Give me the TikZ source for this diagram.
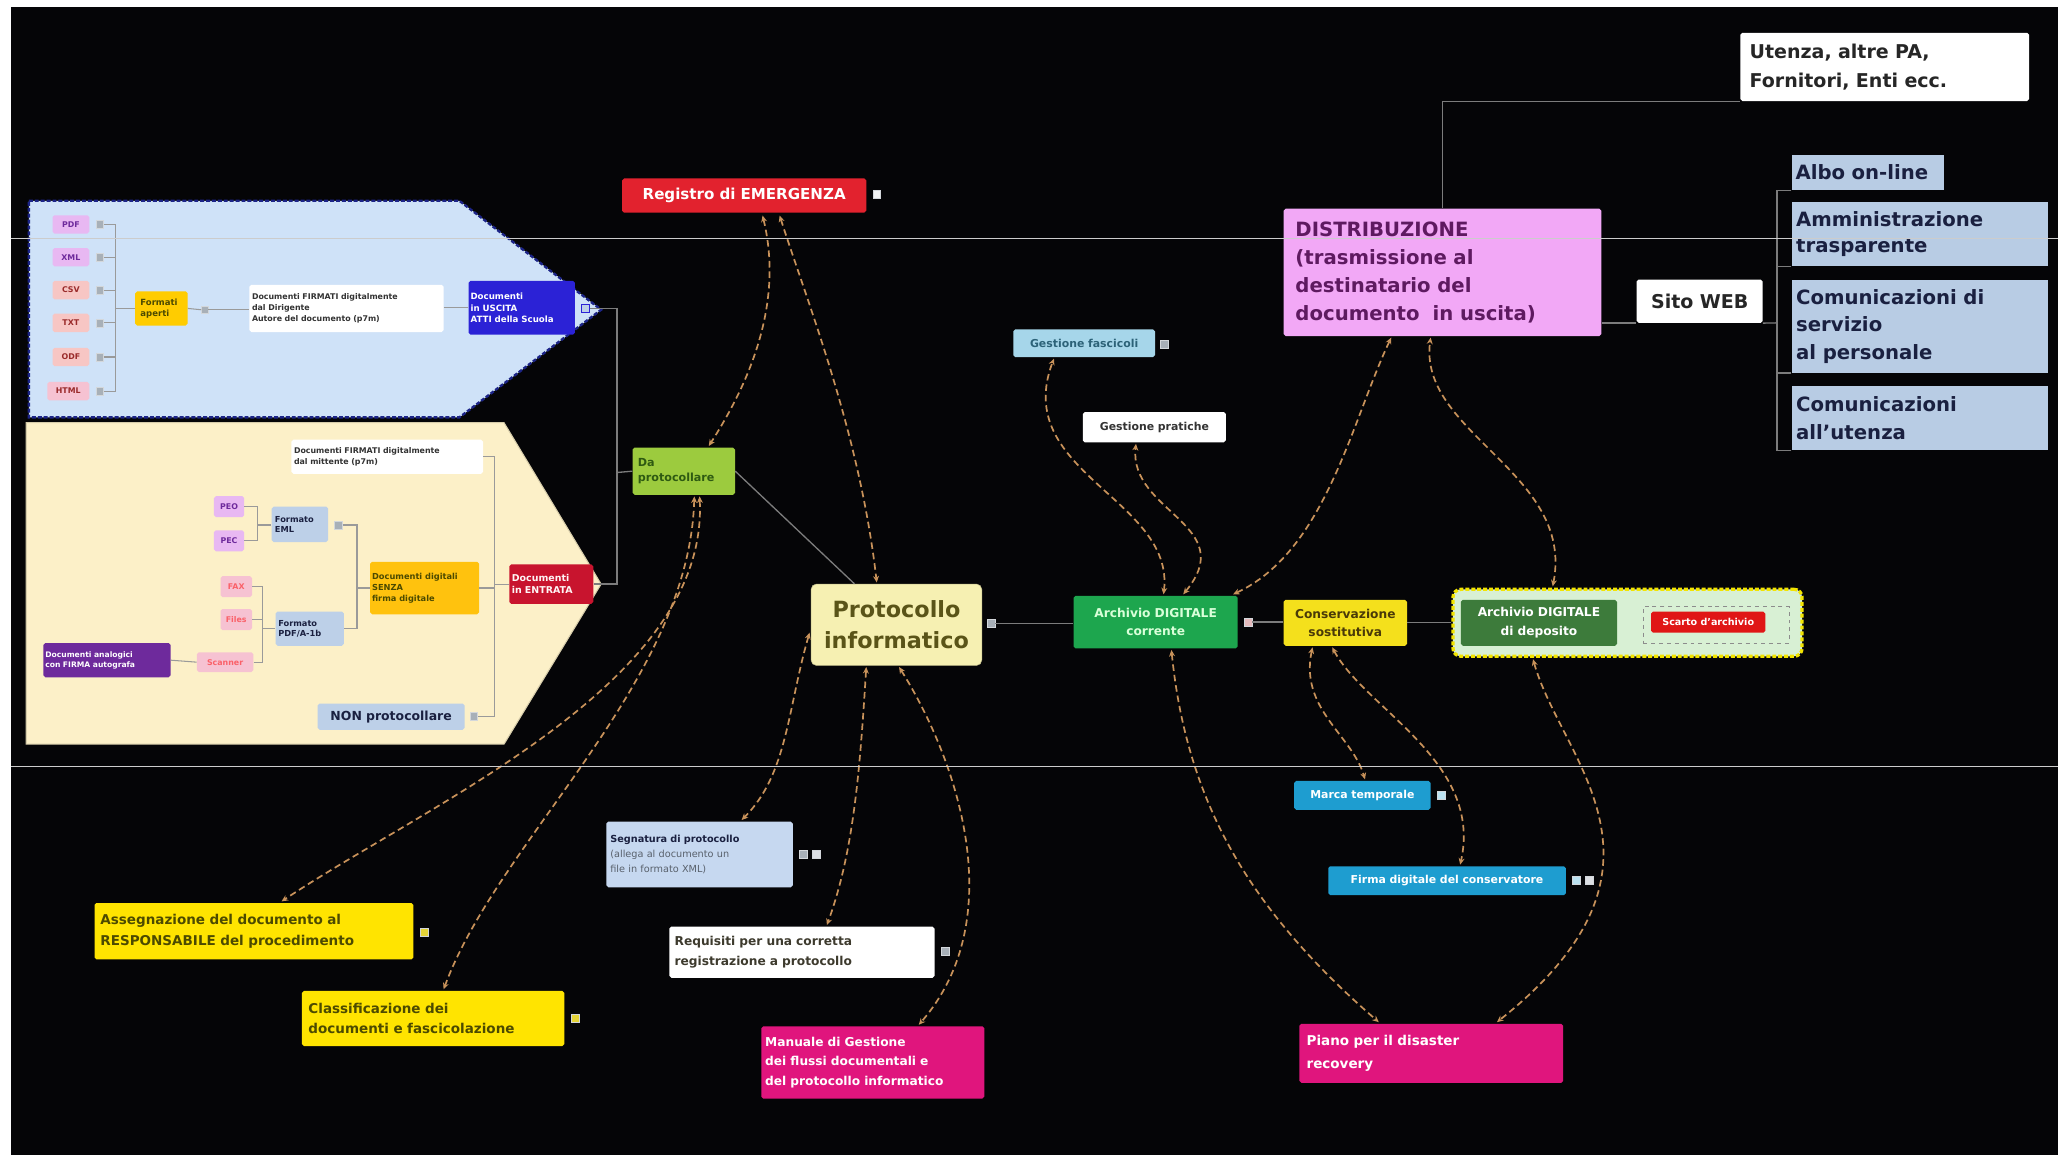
\documentclass[tikz,border=0pt]{standalone}
\usepackage{fontspec}
\setmainfont{DejaVu Sans}
\usetikzlibrary{arrows.meta,calc}
\hyphenpenalty=10000
\exhyphenpenalty=10000
\definecolor{bg}{HTML}{050507}
\definecolor{linegray}{HTML}{7C7C7C}
\definecolor{plinec}{HTML}{9A9A9A}
\definecolor{relc}{HTML}{C8925A}
\definecolor{panelB}{HTML}{CFE2F8}
\definecolor{panelBd}{HTML}{1C2488}
\definecolor{panelY}{HTML}{FCF0C8}
\definecolor{regred}{HTML}{E2222E}
\definecolor{dapg}{HTML}{9CCB3E}
\definecolor{dapt}{HTML}{2E5A12}
\definecolor{protf}{HTML}{F6F0B2}
\definecolor{prott}{HTML}{5A5418}
\definecolor{archg}{HTML}{1DA64E}
\definecolor{consy}{HTML}{F4E01C}
\definecolor{const}{HTML}{4A3A08}
\definecolor{depg}{HTML}{3D7B3B}
\definecolor{depfr}{HTML}{D8F0D4}
\definecolor{depbd}{HTML}{F2E400}
\definecolor{scred}{HTML}{E01616}
\definecolor{distf}{HTML}{F2A8F6}
\definecolor{distt}{HTML}{5E1A60}
\definecolor{steel}{HTML}{B8CCE4}
\definecolor{navyt}{HTML}{1A2040}
\definecolor{gfas}{HTML}{A6D6EA}
\definecolor{gfast}{HTML}{2C6278}
\definecolor{tealb}{HTML}{1E9DD0}
\definecolor{segf}{HTML}{C6D8F0}
\definecolor{magb}{HTML}{E0157D}
\definecolor{yel}{HTML}{FFE400}
\definecolor{yelt}{HTML}{4C4A00}
\definecolor{uscb}{HTML}{2B22D6}
\definecolor{fmty}{HTML}{FFCC00}
\definecolor{lil}{HTML}{E8B8F2}
\definecolor{sal}{HTML}{F7C6C4}
\definecolor{pinkf}{HTML}{F6C2D2}
\definecolor{purp}{HTML}{6E2A9C}
\definecolor{senz}{HTML}{FFC20E}
\definecolor{entrc}{HTML}{C8142E}
\definecolor{ltblue}{HTML}{BDD0E8}
\definecolor{mkc}{HTML}{A8B0B8}
\definecolor{darkred}{HTML}{9A2A2A}
\newcommand\fs[2]{\fontsize{#1}{#2}\selectfont}
\newcommand\bx[7][]{%
  \pgfmathsetmacro\bxw{#5-#3}%
  \pgfmathsetmacro\bxh{#6-#4}%
  \pgfmathsetmacro\bxt{max(#5-#3-8,4)}%
  \node[box,minimum width=\bxw pt,minimum height=\bxh pt,text width=\bxt pt,#1] (#2) at ({(#3+#5)/2},{(#4+#6)/2}) {#7};%
}
\begin{document}
\begin{tikzpicture}[x=1pt,y=-1pt,
  box/.style={rectangle,inner sep=0pt,rounded corners=1.5pt,align=left,font=\bfseries},
  mk/.style={rectangle,inner sep=0pt,minimum size=6pt,fill=mkc,draw=white!50!mkc,line width=0.4pt},
  conn/.style={draw=linegray,line width=1pt},
  pconn/.style={draw=plinec,line width=0.8pt},
  rel/.style={draw=relc,line width=1.3pt,dash pattern=on 5pt off 3pt,{Stealth[length=5pt,width=4.5pt]}-{Stealth[length=5pt,width=4.5pt]}},
  scan/.style={draw=white!80!black,line width=0.8pt}
]
\useasboundingbox (0,0) rectangle (1568,880);
\fill[white] (0,0) rectangle (1568,880);
\fill[bg] (8,5) rectangle (1568,880);

% ---------- panels ----------
\filldraw[fill=panelB,draw=panelBd,line width=1.8pt,dash pattern=on 3pt off 1.5pt]
  (22,153) -- (350,153) -- (458,236) -- (350,318) -- (22,318) -- cycle;
\filldraw[fill=panelY,draw=panelY!85!black,line width=0.8pt]
  (20,322) -- (384,322) -- (458,445) -- (384,567) -- (20,567) -- cycle;

% blue panel contents
\bx[fill=lil,text=purp,align=center,font=\bfseries\fs{6}{7}]{pdf}{40}{164}{68}{178}{PDF}
\bx[fill=lil,text=purp,align=center,font=\bfseries\fs{6}{7}]{xml}{40}{189}{68}{203}{XML}
\bx[fill=sal,text=darkred,align=center,font=\bfseries\fs{6}{7}]{csv}{40}{214}{68}{228}{CSV}
\bx[fill=sal,text=darkred,align=center,font=\bfseries\fs{6}{7}]{txt}{40}{239}{68}{253}{TXT}
\bx[fill=sal,text=darkred,align=center,font=\bfseries\fs{6}{7}]{odf}{40}{265}{68}{279}{ODF}
\bx[fill=pinkf,text=darkred,align=center,font=\bfseries\fs{6}{7},text width=28pt]{html}{36}{291}{68}{305}{HTML}
\node[mk] (pdfm) at (76,171) {};
\node[mk] (xmlm) at (76,196) {};
\node[mk] (csvm) at (76,221) {};
\node[mk] (txtm) at (76,246) {};
\node[mk] (odfm) at (76,272) {};
\node[mk] (htmlm) at (76,298) {};
\bx[fill=fmty,text=yelt,font=\bfseries\fs{6.5}{8}]{fa}{103}{222}{143}{248}{Formati\\aperti}
\node[mk,minimum size=5pt] (faic) at (156,236) {};
\bx[fill=white,text=black!80,font=\bfseries\fs{6}{8.5},text width=144pt]{fdsig}{190}{217}{338}{253}{Documenti FIRMATI digitalmente\\dal Dirigente\\Autore del documento (p7m)}
\bx[fill=uscb,text=white,font=\bfseries\fs{6.6}{9},text width=78pt]{usc}{357}{214}{438}{255}{Documenti\\in USCITA\\ATTI della Scuola}
\node[mk,fill=ltblue,draw=uscb] (uscm) at (446,235) {};

% yellow panel contents
\bx[fill=white,text=black!80,font=\bfseries\fs{6}{8.5},text width=142pt]{fdmit}{222}{335}{368}{361}{Documenti FIRMATI digitalmente\\dal mittente (p7m)}
\bx[fill=lil,text=purp,align=center,font=\bfseries\fs{6}{7}]{peo}{163}{378}{186}{394}{PEO}
\bx[fill=lil,text=purp,align=center,font=\bfseries\fs{6}{7}]{pec}{163}{404}{186}{420}{PEC}
\bx[fill=ltblue,text=navyt,font=\bfseries\fs{6.3}{8},text width=38pt]{eml}{207}{386}{250}{413}{Formato\\EML}
\node[mk] (emlm) at (258,400) {};
\bx[fill=pinkf,text=pinkf!50!red,align=center,font=\bfseries\fs{6}{7}]{fax}{168}{439}{192}{455}{FAX}
\bx[fill=pinkf,text=pinkf!50!red,align=center,font=\bfseries\fs{6}{7}]{files}{168}{464}{192}{480}{Files}
\bx[fill=pinkf,text=pinkf!50!red,align=center,font=\bfseries\fs{6}{7}]{scanner}{150}{497}{193}{512}{Scanner}
\bx[fill=purp,text=white,font=\bfseries\fs{5.8}{8},text width=94pt]{analog}{33}{490}{130}{516}{Documenti analogici\\con FIRMA autografa}
\bx[fill=ltblue,text=navyt,font=\bfseries\fs{6.3}{8},text width=48pt]{pdfa}{210}{466}{262}{492}{Formato\\PDF/A-1b}
\bx[fill=senz,text=yelt,font=\bfseries\fs{6.3}{8.5},text width=80pt]{senza}{282}{428}{365}{468}{Documenti digitali\\SENZA\\firma digitale}
\bx[fill=entrc,text=white!85!pink,font=\bfseries\fs{7.2}{9.5},text width=60pt]{entr}{388}{430}{452}{460}{Documenti\\in ENTRATA}
\bx[fill=ltblue,text=navyt,align=center,font=\bfseries\fs{9.5}{11}]{nonp}{242}{536}{354}{556}{NON protocollare}
\node[mk] (nonpm) at (361,546) {};

% ---------- main nodes ----------
\bx[fill=regred,text=white,align=center,font=\bfseries\fs{11.5}{14}]{reg}{474}{136}{660}{162}{Registro di EMERGENZA}
\node[mk,fill=white!85!mkc] (regm) at (668,148) {};
\bx[fill=dapg,text=dapt,font=\bfseries\fs{8.5}{11}]{dap}{482}{341}{560}{377}{Da\\protocollare}
\bx[fill=protf,draw=protf!80!black,rounded corners=4pt,text=prott,align=center,font=\bfseries\fs{17}{23}]{prot}{618}{445}{748}{507}{Protocollo\\informatico}
\node[mk] (protm) at (755,475) {};
\bx[fill=archg,text=white!85!green,align=center,font=\bfseries\fs{9.3}{14}]{arch}{818}{454}{943}{494}{Archivio DIGITALE\\corrente}
\node[mk,fill=pink!70!mkc] (archm) at (951,474) {};
\bx[fill=consy,text=const,align=center,font=\bfseries\fs{9.3}{14},text width=92pt]{cons}{978}{457}{1072}{492}{Conservazione\\sostitutiva}
\node[rectangle,rounded corners=6pt,fill=depfr,draw=depbd,line width=2.5pt,dash pattern=on 3pt off 1.5pt,minimum width=266pt,minimum height=51pt,inner sep=0pt] (depframe) at (1240,474.5) {};
\bx[fill=depg,text=white,align=center,font=\bfseries\fs{9.3}{14},text width=116pt]{dep}{1113}{457}{1232}{492}{Archivio DIGITALE\\di deposito}
\node[rectangle,draw=black!45,dashed,line width=0.7pt,minimum width=111pt,minimum height=28pt,inner sep=0pt] (scframe) at (1307.5,476) {};
\bx[fill=scred,text=white,align=center,font=\bfseries\fs{7.3}{9}]{scarto}{1258}{466}{1345}{482}{Scarto d'archivio}

\bx[fill=distf,text=distt,font=\bfseries\fs{15}{21.5},text width=224pt]{distr}{978}{159}{1220}{256}{DISTRIBUZIONE\\(trasmissione al\\destinatario del\\documento\ \ in uscita)}
\bx[fill=white,text=black!85,font=\bfseries\fs{14.5}{22},text width=206pt]{utenza}{1326}{25}{1546}{77}{Utenza, altre PA,\\Fornitori, Enti ecc.}
\bx[fill=white,text=black!85,align=center,font=\bfseries\fs{14.5}{17}]{sito}{1247}{213}{1343}{246}{Sito WEB}
\bx[fill=steel,text=navyt,font=\bfseries\fs{15}{17},text width=110pt,rounded corners=0pt]{albo}{1365}{118}{1481}{145}{Albo on-line}
\bx[fill=steel,text=navyt,font=\bfseries\fs{15}{20},text width=188pt,rounded corners=0pt]{amm}{1365}{154}{1560}{203}{Amministrazione\\trasparente}
\bx[fill=steel,text=navyt,font=\bfseries\fs{15}{21},text width=188pt,rounded corners=0pt]{csp}{1365}{213}{1560}{284}{Comunicazioni di\\servizio\\al personale}
\bx[fill=steel,text=navyt,font=\bfseries\fs{15}{21},text width=188pt,rounded corners=0pt]{cut}{1365}{294}{1560}{343}{Comunicazioni\\all'utenza}

\bx[fill=gfas,text=gfast,align=center,font=\bfseries\fs{8.3}{10}]{gfasc}{772}{251}{880}{272}{Gestione fascicoli}
\node[mk] (gfascm) at (887,262) {};
\bx[fill=white,text=black!80,align=center,font=\bfseries\fs{8.3}{10}]{gprat}{825}{314}{934}{337}{Gestione pratiche}
\bx[fill=tealb,text=white,align=center,font=\bfseries\fs{8.3}{10}]{marca}{986}{595}{1090}{617}{Marca temporale}
\node[mk,fill=white!70!tealb] (marcam) at (1098,606) {};
\bx[fill=tealb,text=white,align=center,font=\bfseries\fs{8.3}{10},text width=178pt]{firma}{1012}{660}{1193}{682}{Firma digitale del conservatore}
\node[mk,fill=white!70!tealb] (firmam) at (1201,671) {};
\node[mk,fill=white!60!mkc] (firmam2) at (1211,671) {};
\bx[fill=segf,text=black!55!segf,font=\fs{7.4}{11.5},text width=136pt]{segn}{462}{626}{604}{676}{{\bfseries\color{navyt}Segnatura di protocollo}\\(allega al documento un\\file in formato XML)}
\node[mk] (segnm) at (612,651) {};
\node[mk,fill=white!60!mkc] (segnm2) at (622,651) {};
\bx[fill=white,text=black!75!olive,font=\bfseries\fs{9.3}{15},text width=194pt]{req}{510}{706}{712}{745}{Requisiti per una corretta\\registrazione a protocollo}
\node[mk] (reqm) at (720,725) {};
\bx[fill=magb,text=white,font=\bfseries\fs{9.3}{15},text width=164pt]{man}{580}{782}{750}{837}{Manuale di Gestione\\dei flussi documentali e\\del protocollo informatico}
\bx[fill=yel,text=yelt,font=\bfseries\fs{10.3}{15.5},text width=234pt]{assign}{72}{688}{315}{731}{Assegnazione del documento al\\RESPONSABILE del procedimento}
\node[mk,fill=yel!70!mkc] (assignm) at (323,710) {};
\bx[fill=yel,text=yelt,font=\bfseries\fs{10.3}{15.5},text width=190pt]{classif}{230}{755}{430}{797}{Classificazione dei\\documenti e fascicolazione}
\node[mk,fill=yel!70!mkc] (classifm) at (438,776) {};
\bx[fill=magb,text=white,font=\bfseries\fs{10.3}{18},text width=190pt]{piano}{990}{780}{1191}{825}{Piano per il disaster\\recovery}

% ---------- tree connectors ----------
\coordinate (jF) at (88,247);
\foreach \m in {pdfm,xmlm,csvm,txtm,odfm,htmlm}{\draw[pconn] (\m.east) -- (\m.east -| jF);}
\draw[pconn] (jF |- pdfm) -- (jF |- htmlm);
\draw[pconn] (jF |- fa.west) -- (fa.west);
\draw[pconn] (fa.east) -- (faic.west);
\draw[pconn] (faic.east) -- (fdsig.west |- faic.east);
\draw[pconn] (fdsig.east |- usc.west) -- (usc.west);
\coordinate (jL) at (470,360);
\draw[conn] (uscm.east) -| (jL);
\draw[conn] (entr.east) -| (jL);
\draw[conn] (dap.west) -- (jL);

\coordinate (jE) at (196,400);
\draw[pconn] (peo.east) -| (jE);
\draw[pconn] (pec.east) -| (jE);
\draw[pconn] (jE) -- (eml.west |- jE);
\coordinate (jP) at (200,479);
\draw[pconn] (fax.east) -| (jP);
\draw[pconn] (files.east) -| (jP);
\draw[pconn] (scanner.east) -| (jP);
\draw[pconn] (jP) -- (pdfa.west |- jP);
\draw[pconn] (analog.east) -- (scanner.west);
\coordinate (jS) at (272,448);
\draw[pconn] (emlm.east) -| (jS);
\draw[pconn] (pdfa.east) -| (jS);
\draw[pconn] (jS) -- (senza.west |- jS);
\coordinate (jN) at (377,445);
\draw[pconn] (fdmit.east) -| (jN);
\draw[pconn] (senza.east) -| (jN);
\draw[pconn] (nonpm.east) -| (jN);
\draw[pconn] (jN) -- (entr.west |- jN);

\draw[conn] (dap.east) -- ($(prot.north)+(-32,0)$);
\draw[conn] (protm.east) -- (arch.west |- protm.east);
\draw[conn] (archm.east) -- (cons.west |- archm.east);
\draw[conn] (cons.east) -- (depframe.west |- cons.east);

\draw[conn] (distr.north) |- (utenza.south west);
\draw[conn] (distr.east |- sito.south west) -- (sito.south west);
\coordinate (jW) at (1354,246);
\draw[conn] (sito.south east) -- (jW);
\foreach \b in {albo,amm,csp,cut}{\draw[conn] (\b.south west) -| (jW);}

% ---------- relationship curves ----------
\draw[rel] ($(reg.south)+(14,2)$) .. controls (597,230) and (572,290) .. ($(dap.north)+(19,-1)$);
\draw[rel] ($(reg.south)+(27,2)$) .. controls (615,230) and (655,330) .. ($(prot.north)+(-15,-1)$);
\draw[rel] ($(dap.south)+(12,1)$) .. controls (540,520) and (330,610) .. ($(assign.north)+(21,-1)$);
\draw[rel] ($(dap.south)+(8,1)$) .. controls (525,520) and (380,640) .. ($(classif.north)+(8,-1)$);
\draw[rel] ($(prot.west)+(-1,6)$) .. controls (600,540) and (600,590) .. ($(segn.north)+(32,-1)$);
\draw[rel] ($(prot.south)+(-23,1)$) .. controls (655,590) and (650,650) .. ($(req.north)+(19,-1)$);
\draw[rel] ($(prot.south)+(2,1)$) .. controls (730,580) and (770,700) .. ($(man.north)+(35,-1)$);
\draw[rel] ($(arch.north)+(6,-1)$) .. controls (895,380) and (770,360) .. ($(gfasc.south)+(-23,1)$);
\draw[rel] ($(arch.north)+(21,-1)$) .. controls (945,400) and (860,390) .. ($(gprat.south)+(-14,1)$);
\draw[rel] ($(arch.north)+(59,-1)$) .. controls (1010,420) and (1030,320) .. ($(distr.south)+(-39,1)$);
\draw[rel] ($(depframe.north)+(-57,-1)$) .. controls (1200,360) and (1080,330) .. ($(distr.south)+(-9,1)$);
\draw[rel] ($(cons.south)+(-25,1)$) .. controls (990,540) and (1030,560) .. ($(marca.north)+(2,-1)$);
\draw[rel] ($(cons.south)+(-10,1)$) .. controls (1040,540) and (1130,580) .. ($(firma.north)+(10,-1)$);
\draw[rel] ($(arch.south)+(12,1)$) .. controls (905,620) and (960,700) .. ($(piano.north)+(-40,-1)$);
\draw[rel] ($(depframe.south)+(-72,1)$) .. controls (1190,580) and (1290,660) .. ($(piano.north)+(50,-1)$);

% ---------- scan artefact lines ----------
\draw[scan] (8,181.5) -- (1568,181.5);
\draw[scan] (8,584) -- (1568,584);
\end{tikzpicture}
\end{document}
